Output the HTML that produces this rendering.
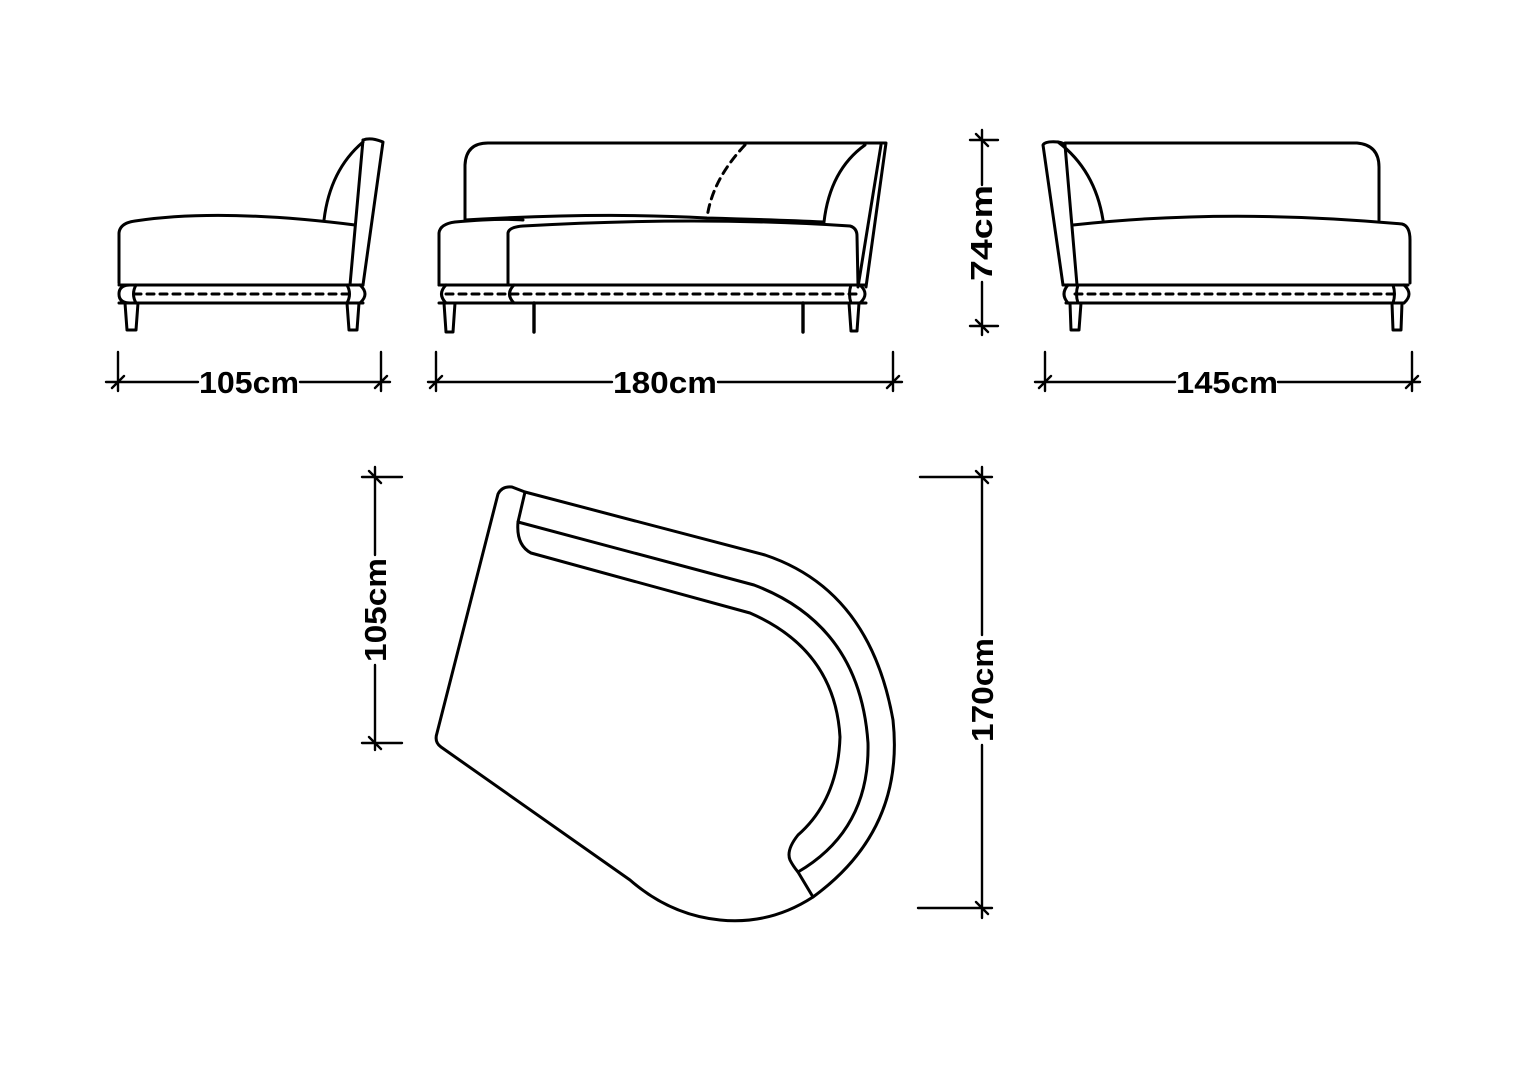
<!DOCTYPE html>
<html><head><meta charset="utf-8"><style>html,body{margin:0;padding:0;background:#fff}svg{display:block}</style></head>
<body>
<svg width="1528" height="1080" viewBox="0 0 1528 1080" xmlns="http://www.w3.org/2000/svg">
<g fill="none" stroke="#000" stroke-width="3" stroke-linejoin="round" stroke-linecap="round">
<!-- LEFT SIDE VIEW -->
<path d="M119,283 L119,233 Q120,223 135,221 Q220,208 355,225"/>
<path d="M119,285 L363,285"/>
<path d="M363,140 Q371,137 383,142 L363,285"/>
<path d="M363,140 L350,285"/>
<path d="M324,220 Q330,170 363,142"/>
<path d="M119,303 L363,303"/>
<path d="M130,285 Q119,285 119,294 Q119,303 130,303"/>
<path d="M136,285 Q131,294 136,303"/>
<path d="M347,285 Q352,294 347,303"/>
<path d="M360,285 Q370,294 360,303"/>
<path d="M134,294 L350,294" stroke-dasharray="7,6"/>
<path d="M125,303 L127,330 L136,330 L138,303"/>
<path d="M347,303 L349,330 L357,330 L359,303"/>
<!-- MIDDLE FRONT VIEW -->
<path d="M465,220 L465,165 Q466,143 488,143 L886,143 L866,287"/>
<path d="M881,145 L858,287"/>
<path d="M824,222 Q830,170 865,145"/>
<path d="M745,145 Q712,180 707,218" stroke-dasharray="8,6"/>
<path d="M439,285 L439,233 Q440,224 455,222 Q500,218 523,220"/>
<path d="M465,220 Q600,212 707,218 Q780,220 824,222"/>
<path d="M508,285 L508,233 Q509,227 523,226 Q700,216 850,226 Q857,228 857,236 L858,285"/>
<path d="M439,285 L866,285"/>
<path d="M439,303 L866,303"/>
<path d="M446,285 Q437,294 446,303"/>
<path d="M514,285 Q505,294 514,303"/>
<path d="M851,285 Q848,294 851,303"/>
<path d="M860,285 Q870,294 860,303"/>
<path d="M446,294 L858,294" stroke-dasharray="7,6"/>
<path d="M444,303 L446,332 L453,332 L455,303"/>
<path d="M534,303 L534,332" stroke-width="3.4"/>
<path d="M803,303 L803,332" stroke-width="3.4"/>
<path d="M849,303 L851,331 L857,331 L859,303"/>
<!-- RIGHT SIDE VIEW -->
<path d="M1063,285 L1043,145 Q1045,141 1058,142 Q1064,143 1065,145 L1077,285"/>
<path d="M1065,143 L1357,143 Q1379,145 1379,167 L1379,220"/>
<path d="M1058,142 Q1095,170 1103,220"/>
<path d="M1073,225 Q1227,208 1402,224 Q1410,226 1410,240 L1410,283"/>
<path d="M1063,285 L1408,285"/>
<path d="M1066,303 L1403,303"/>
<path d="M1068,285 Q1060,294 1068,303"/>
<path d="M1078,285 Q1075,294 1078,303"/>
<path d="M1393,285 Q1396,294 1393,303"/>
<path d="M1404,285 Q1414,294 1404,303"/>
<path d="M1075,294 L1400,294" stroke-dasharray="7,6"/>
<path d="M1070,303 L1071,330 L1079,330 L1081,303"/>
<path d="M1392,303 L1393,330 L1401,330 L1402,303"/>
<!-- TOP VIEW -->
<path d="M525,492 L765,555 Q870,590 893,720 Q905,830 813,897 Q770,925 720,920 Q670,915 630,880 L441,747 Q434,742 437,733 L498,494 Q502,486 512,487 Z"/>
<path d="M525,492 L518,522"/>
<path d="M518,522 L754,585 Q860,625 868,743 Q870,830 798,872"/>
<path d="M518,522 Q516,545 531,553 L750,613 Q835,650 840,737 Q838,800 798,835 Q786,850 790,860 Q793,866 798,872 L813,897"/>
<!-- DIMENSIONS -->
<g stroke-width="2.4">
<path d="M106,382 L198,382 M300,382 L390,382 M118,352 L118,391 M381,352 L381,391 M112,388 L124,376 M375,388 L387,376"/>
<path d="M428,382 L612,382 M718,382 L902,382 M436,352 L436,391 M893,352 L893,391 M430,388 L442,376 M887,388 L899,376"/>
<path d="M1035,382 L1175,382 M1278,382 L1420,382 M1045,352 L1045,391 M1412,352 L1412,391 M1039,388 L1051,376 M1406,388 L1418,376"/>
<path d="M982,130 L982,185 M982,282 L982,335 M970,140 L998,140 M970,326 L998,326 M976,134 L988,146 M976,320 L988,332"/>
<path d="M375,467 L375,555 M375,665 L375,750 M362,477 L402,477 M362,743 L402,743 M369,471 L381,483 M369,737 L381,749"/>
<path d="M982,467 L982,635 M982,745 L982,918 M920,477 L992,477 M918,908 L992,908 M976,471 L988,483 M976,902 L988,914"/>
</g>
</g>
<g font-family="Liberation Sans, sans-serif" font-size="31" font-weight="bold" fill="#000" text-anchor="middle">
<text x="249" y="393" textLength="100" lengthAdjust="spacingAndGlyphs">105cm</text>
<text x="665" y="393" textLength="104" lengthAdjust="spacingAndGlyphs">180cm</text>
<text x="1227" y="393" textLength="102" lengthAdjust="spacingAndGlyphs">145cm</text>
<text transform="translate(992,233) rotate(-90)" textLength="96" lengthAdjust="spacingAndGlyphs">74cm</text>
<text transform="translate(386,610) rotate(-90)" textLength="104" lengthAdjust="spacingAndGlyphs">105cm</text>
<text transform="translate(993,690) rotate(-90)" textLength="104" lengthAdjust="spacingAndGlyphs">170cm</text>
</g>
</svg>
</body></html>
